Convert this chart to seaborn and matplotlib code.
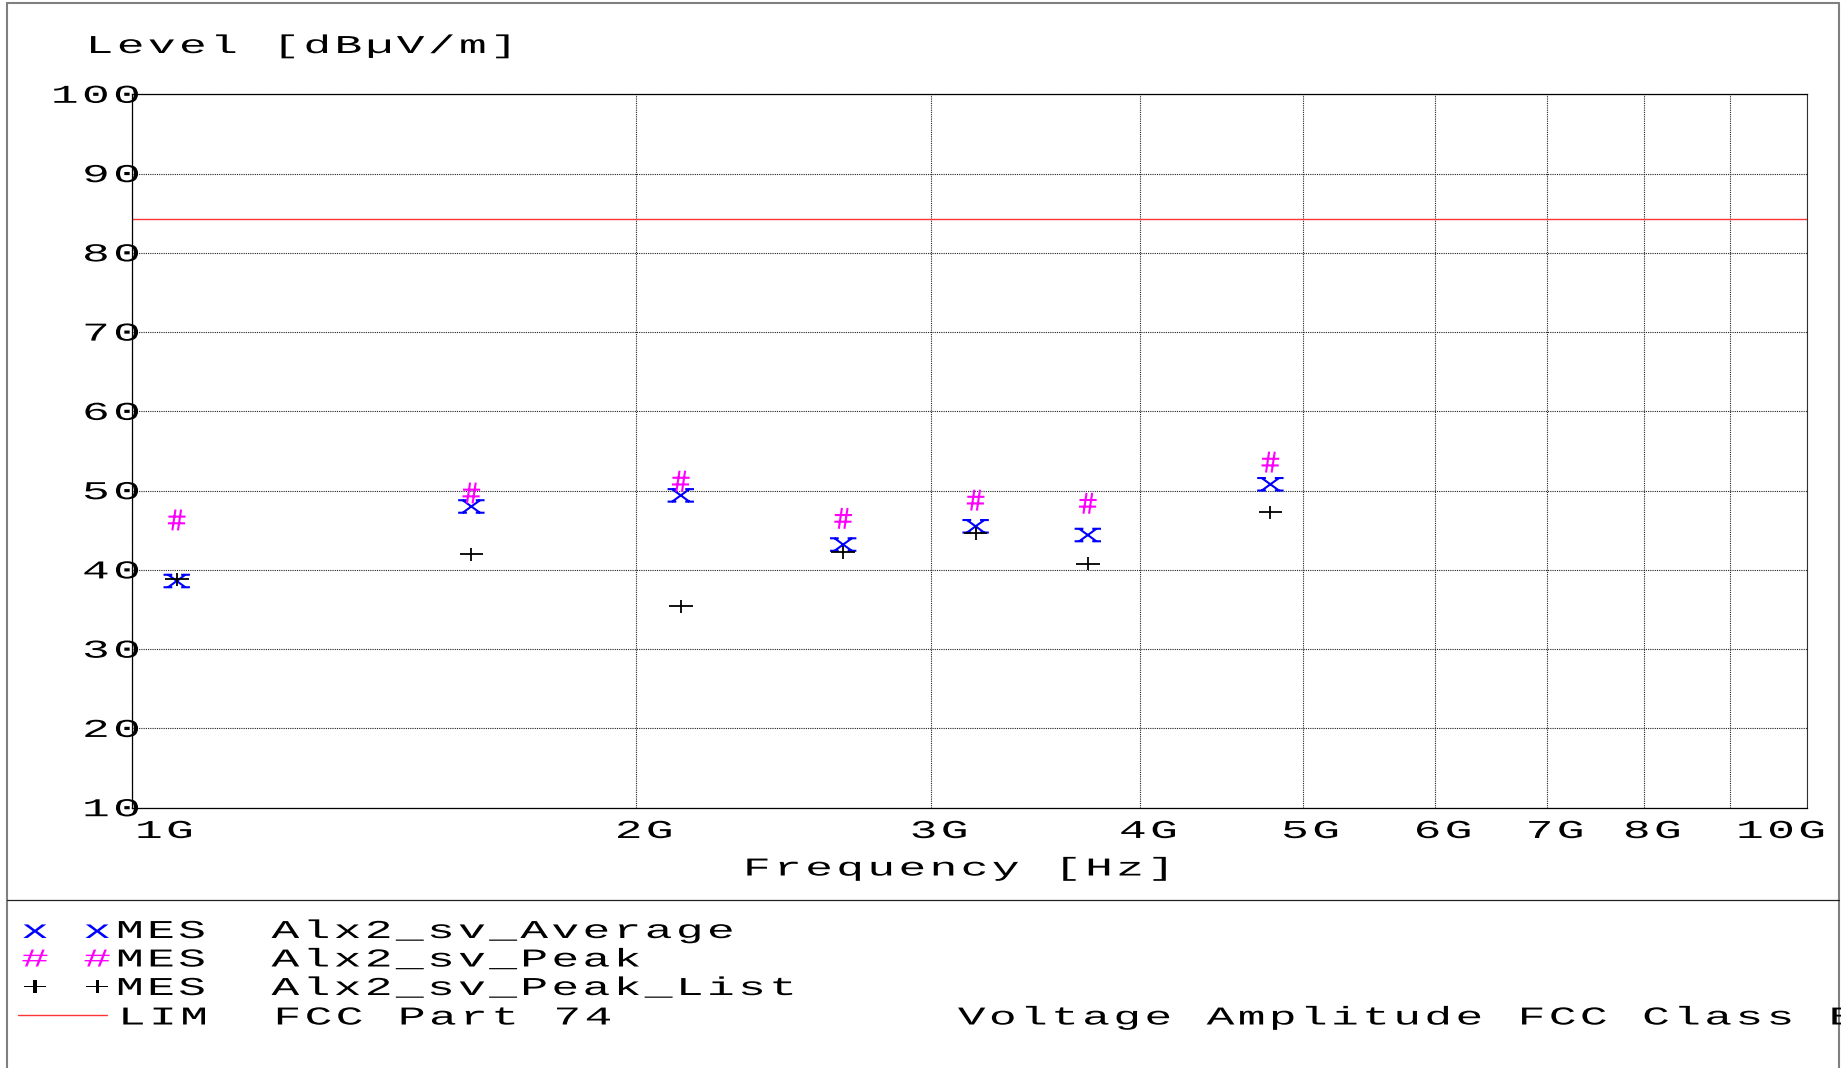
import numpy as np
import pandas as pd
import matplotlib
matplotlib.use("Agg")
import matplotlib.pyplot as plt
import seaborn as sns
from matplotlib.path import Path
from matplotlib.patheffects import AbstractPathEffect
from matplotlib.transforms import Affine2D, Bbox
from matplotlib.lines import Line2D
from matplotlib.ticker import NullLocator

# ---------------- data ----------------
freq_hz = [1.063e9, 1.594e9, 2.126e9, 2.658e9, 3.189e9, 3.721e9, 4.783e9]
average_level = [38.6, 48.0, 49.4, 43.2, 45.5, 44.4, 50.8]
peak_level = [46.3, 49.7, 51.2, 46.5, 48.8, 48.4, 53.6]
peak_list_level = [38.8, 42.0, 35.4, 42.2, 44.6, 40.8, 47.3]
limit_level = 84.3

x_ticks = [1e9, 2e9, 3e9, 4e9, 5e9, 6e9, 7e9, 8e9, 9e9, 1e10]
x_tick_labels = ["1G", "2G", "3G", "4G", "5G", "6G", "7G", "8G", "", "10G"]
y_ticks = [10, 20, 30, 40, 50, 60, 70, 80, 90, 100]
y_tick_labels = ["10", "20", "30", "40", "50", "60", "70", "80", "90", "100"]
x_label = "Frequency [Hz]"
y_label = "Level [dBµV/m]"
legend_markers = ["x", "#", "+"]
legend_names = ["MES  Alx2_sv_Average", "MES  Alx2_sv_Peak", "MES  Alx2_sv_Peak_List"]
limit_text = "LIM  FCC Part 74" + " " * 11 + "Voltage Amplitude FCC Class B"

# ---------------- style ----------------
BLUE, MAGENTA, BLACK, RED = "#0000FF", "#FF00FF", "#000000", "#FF3535"
legend_colors = [BLUE, MAGENTA, BLACK]

sns.set_style("white")
plt.rcParams["font.family"] = ["Liberation Mono", "DejaVu Sans Mono"]

W, H, DPI = 1845, 1068, 100
FS = 18.5                      # font size in points
ADV = 31.1                     # target character advance in pixels
NATIVE_ADV = 0.6 * FS * DPI / 72.0
F = ADV / NATIVE_ADV           # advance stretch
G = 1.8                        # glyph width stretch


class MonoStretch(AbstractPathEffect):
    """Widen a monospaced text: spread glyph cells and widen glyphs."""

    def __init__(self, adv_factor, glyph_factor, anchor="left", slot=60.0):
        super().__init__()
        self.f = adv_factor
        self.g = glyph_factor
        self.anchor = anchor
        self.slot = slot

    def draw_path(self, renderer, gc, tpath, affine, rgbFace=None):
        v = np.array(tpath.vertices, dtype=float)
        codes = tpath.codes
        if codes is None or len(v) == 0:
            renderer.draw_path(gc, tpath, affine, rgbFace)
            return
        codes = np.asarray(codes)
        starts = np.flatnonzero(codes == Path.MOVETO)
        if len(starts) == 0:
            renderer.draw_path(gc, tpath, affine, rgbFace)
            return
        ends = list(starts[1:]) + [len(v)]
        valid = codes != Path.CLOSEPOLY
        nv = v.copy()
        for s, e in zip(starts, ends):
            m = valid[s:e]
            xs = v[s:e][m, 0]
            if len(xs) == 0:
                continue
            i = int(np.floor(((xs.min() + xs.max()) / 2.0) / self.slot))
            c = (i + 0.5) * self.slot
            nv[s:e, 0] = (v[s:e, 0] - c) * self.g + c * self.f
        ox = v[valid, 0]
        nx = nv[valid, 0]
        if self.anchor == "right":
            shift = ox.max() - nx.max()
        elif self.anchor == "center":
            shift = (ox.max() + ox.min()) / 2.0 - (nx.max() + nx.min()) / 2.0
        else:
            shift = 0.0
        nv[:, 0] += shift
        renderer.draw_path(gc, Path(nv, codes), affine, rgbFace)


def stretch(anchor="left"):
    return [MonoStretch(F, G, anchor)]


# marker shapes (glyph-like, wide)
def seg_path(segs):
    verts, codes = [], []
    for a, b in segs:
        verts += [a, b]
        codes += [Path.MOVETO, Path.LINETO]
    return Path(verts, codes)


X_MARK = seg_path([((-0.62, 0.45), (0.62, -0.45)), ((-0.62, -0.45), (0.62, 0.45)),
                   ((-0.95, 0.45), (-0.32, 0.45)), ((0.32, 0.45), (0.95, 0.45)),
                   ((-0.95, -0.45), (-0.32, -0.45)), ((0.32, -0.45), (0.95, -0.45))])
HASH_MARK = seg_path([((-0.42, -1.0), (-0.12, 1.0)), ((0.12, -1.0), (0.42, 1.0)),
                      ((-0.8, 0.32), (0.85, 0.32)), ((-0.85, -0.32), (0.8, -0.32))])
PLUS_MARK = seg_path([((-1.0, 0.0), (1.0, 0.0)), ((0.0, -0.55), (0.0, 0.55))])

# ---------------- figure ----------------
fig = plt.figure(figsize=(W / DPI, H / DPI), dpi=DPI)
fig.patch.set_facecolor("white")
AX_L, AX_R, AX_T, AX_B = 132.3, 1806.7, 94.3, 807.7
ax = fig.add_axes([AX_L / W, 1 - AX_B / H, (AX_R - AX_L) / W, (AX_B - AX_T) / H])

df = pd.DataFrame({"freq": freq_hz, "avg": average_level,
                   "peak": peak_level, "plist": peak_list_level})

sns.scatterplot(data=df, x="freq", y="avg", marker=X_MARK, s=19.0 ** 2,
                color=BLUE, edgecolor=BLUE, facecolor="none", linewidth=1.5,
                legend=False, zorder=3, ax=ax)
sns.scatterplot(data=df, x="freq", y="plist", marker=PLUS_MARK, s=17.0 ** 2,
                color=BLACK, edgecolor=BLACK, facecolor="none", linewidth=1.3,
                legend=False, zorder=4, ax=ax)
sns.scatterplot(data=df, x="freq", y="peak", marker=HASH_MARK, s=15.0 ** 2,
                color=MAGENTA, edgecolor=MAGENTA, facecolor="none", linewidth=1.5,
                legend=False, zorder=5, ax=ax)

ax.axhline(limit_level, color=RED, linewidth=1.0, zorder=2)

ax.set_xscale("log")
ax.set_xlim(1e9, 1e10)
ax.set_ylim(10, 100)
ax.xaxis.set_minor_locator(NullLocator())
ax.yaxis.set_minor_locator(NullLocator())
ax.set_xticks(x_ticks, x_tick_labels)
ax.set_yticks(y_ticks, y_tick_labels)
ax.tick_params(axis="both", which="both", length=0, labelsize=FS, colors=BLACK)
ax.tick_params(axis="x", pad=21.8)
ax.tick_params(axis="y", pad=0)
ax.grid(True, color="#202020", linestyle=(0, (1, 1)), linewidth=0.8)
ax.set_axisbelow(True)

for s in ["left", "bottom", "top"]:
    ax.spines[s].set_color(BLACK)
    ax.spines[s].set_linewidth(0.9)
ax.spines["right"].set_color("#303030")
ax.spines["right"].set_linestyle((0, (1, 1)))
ax.spines["right"].set_linewidth(0.8)

xl = ax.get_xticklabels()
for i, lab in enumerate(xl):
    lab.set_va("baseline")
    if i == 0:
        ha, dx = "left", 1.0
    elif i == len(xl) - 1:
        ha, dx = "right", 18.3
    else:
        ha, dx = "center", 8.0
    lab.set_ha(ha)
    lab.set_transform(lab.get_transform() + Affine2D().translate(dx, 0))
    lab.set_path_effects(stretch(ha))

for lab in ax.get_yticklabels():
    lab.set_va("baseline")
    lab.set_transform(lab.get_transform() + Affine2D().translate(7.5, -8.5))
    lab.set_path_effects(stretch("right"))

ax_h = AX_B - AX_T
ax_w = AX_R - AX_L
ax.set_xlabel(x_label, fontsize=FS, ha="left", va="baseline", color=BLACK)
ax.xaxis.set_label_coords((741.3 - AX_L) / ax_w, (AX_B - 875.5) / ax_h)
ax.xaxis.label.set_path_effects(stretch("left"))
ax.set_ylabel(y_label, fontsize=FS, rotation=0, ha="left", va="baseline", color=BLACK)
ax.yaxis.set_label_coords((84.0 - AX_L) / ax_w, (AX_B - 53.0) / ax_h)
ax.yaxis.label.set_path_effects(stretch("left"))

# ---------------- legend block ----------------
ORIGIN = 21.0
rows_baseline = [938.0, 966.5, 995.0, 1024.5]


def ftext(xpx, ypx, s, color=BLACK):
    t = fig.text(xpx / W, 1 - ypx / H, s, fontsize=FS, color=color,
                 ha="left", va="baseline")
    t.set_path_effects(stretch("left"))
    return t


for r, (mk, col, name) in enumerate(zip(legend_markers, legend_colors, legend_names)):
    y = rows_baseline[r]
    ftext(ORIGIN - 1.5, y, mk, col)
    ftext(ORIGIN - 1.5 + 2 * ADV, y, mk, col)
    ftext(ORIGIN + 3 * ADV, y, name)

fig.add_artist(Line2D([18 / W, 107 / W], [1 - 1015 / H, 1 - 1015 / H],
                      color=RED, linewidth=1.0))
lt = ftext(ORIGIN + 3 * ADV + 2.0, rows_baseline[3], limit_text)
lt.set_clip_on(True)
lt.set_clip_box(Bbox.from_extents(0, 0, 1841, H))

# ---------------- frame ----------------
FR_L, FR_R, FR_T, SEP = 7.3, 1838.5, 3.0, 900.0
frame = dict(color="#808080", linewidth=1.5)
fig.add_artist(Line2D([FR_L / W, FR_L / W], [0, 1 - FR_T / H], **frame))
fig.add_artist(Line2D([FR_R / W, FR_R / W], [0, 1 - FR_T / H], **frame))
fig.add_artist(Line2D([FR_L / W, FR_R / W], [1 - FR_T / H, 1 - FR_T / H], **frame))
fig.add_artist(Line2D([FR_L / W, FR_R / W], [1 - SEP / H, 1 - SEP / H],
                      color="#202020", linewidth=0.9))

fig.savefig("out.png", dpi=DPI, facecolor="white")
